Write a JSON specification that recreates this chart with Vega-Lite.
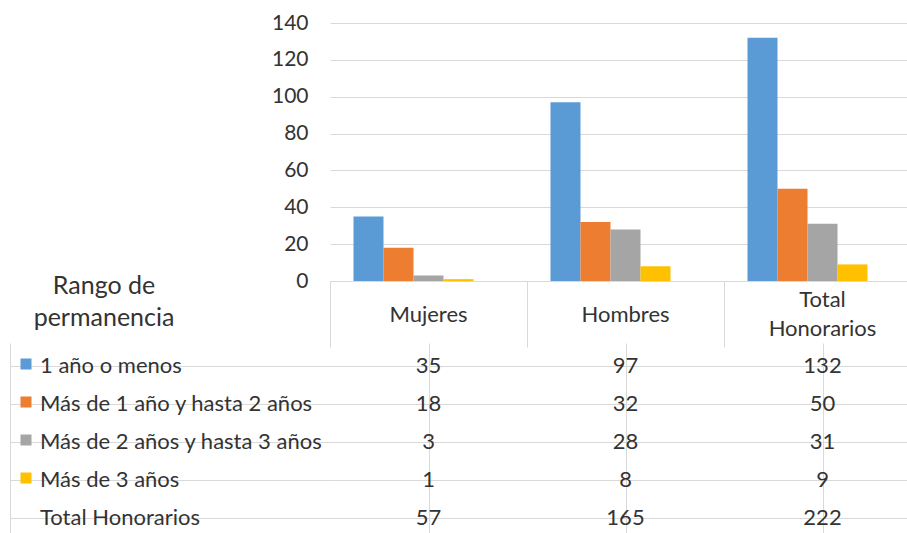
{
  "$schema": "https://vega.github.io/schema/vega-lite/v6.json",
  "padding": {"left": 10, "top": 12, "right": 0, "bottom": 0},
  "background": "white",
  "config": {"view": {"stroke": null}, "font": "Lato", "title": {"font": "Lato"}, "axis": {"labelFont": "Lato"}},
  "datasets": {
    "tabla": [
      {"grupo": "Mujeres", "rango": "1 año o menos", "valor": 35},
      {"grupo": "Mujeres", "rango": "Más de 1 año y hasta 2 años", "valor": 18},
      {"grupo": "Mujeres", "rango": "Más de 2 años y hasta 3 años", "valor": 3},
      {"grupo": "Mujeres", "rango": "Más de 3 años", "valor": 1},
      {"grupo": "Mujeres", "rango": "Total Honorarios", "valor": 57},
      {"grupo": "Hombres", "rango": "1 año o menos", "valor": 97},
      {"grupo": "Hombres", "rango": "Más de 1 año y hasta 2 años", "valor": 32},
      {"grupo": "Hombres", "rango": "Más de 2 años y hasta 3 años", "valor": 28},
      {"grupo": "Hombres", "rango": "Más de 3 años", "valor": 8},
      {"grupo": "Hombres", "rango": "Total Honorarios", "valor": 165},
      {"grupo": "Total Honorarios", "rango": "1 año o menos", "valor": 132},
      {"grupo": "Total Honorarios", "rango": "Más de 1 año y hasta 2 años", "valor": 50},
      {"grupo": "Total Honorarios", "rango": "Más de 2 años y hasta 3 años", "valor": 31},
      {"grupo": "Total Honorarios", "rango": "Más de 3 años", "valor": 9},
      {"grupo": "Total Honorarios", "rango": "Total Honorarios", "valor": 222}
    ],
    "filas": [
      {"rango": "1 año o menos"},
      {"rango": "Más de 1 año y hasta 2 años"},
      {"rango": "Más de 2 años y hasta 3 años"},
      {"rango": "Más de 3 años"},
      {"rango": "Total Honorarios"}
    ]
  },
  "columns": 2,
  "spacing": {"row": 66, "column": 0},
  "bounds": "flush",
  "concat": [
    {
      "width": 320,
      "height": 258,
      "data": {"values": [{}]},
      "mark": {"type": "text", "text": ""},
      "encoding": {}
    },
    {
      "width": 577,
      "height": 258,
      "data": {"name": "tabla"},
      "transform": [{"filter": "datum.rango != 'Total Honorarios'"}],
      "mark": {"type": "bar"},
      "encoding": {
        "x": {
          "field": "grupo", "type": "nominal",
          "sort": ["Mujeres", "Hombres", "Total Honorarios"],
          "scale": {"range": [0, 591], "paddingInner": 0, "paddingOuter": 0},
          "axis": {
            "title": null, "orient": "bottom", "domain": false, "ticks": true,
            "tickSize": 66, "tickColor": "#d9d9d9", "bandPosition": 0,
            "labelPadding": -33,
            "labelBaseline": {"condition": {"test": "datum.value == 'Total Honorarios'", "value": "line-bottom"}, "value": "middle"},
            "labelAngle": 0,
            "labelFontSize": 22, "labelColor": "#333333", "labelLineHeight": 29,
            "labelOverlap": false,
            "labelExpr": "datum.label == 'Total Honorarios' ? ['Total', 'Honorarios'] : datum.label"
          }
        },
        "xOffset": {
          "field": "rango", "type": "nominal",
          "scale": {
            "domain": ["1 año o menos", "Más de 1 año y hasta 2 años", "Más de 2 años y hasta 3 años", "Más de 3 años", " "],
            "paddingInner": 0, "paddingOuter": 0.783
          }
        },
        "y": {
          "field": "valor", "type": "quantitative",
          "scale": {"domain": [0, 140]},
          "axis": {
            "title": null, "values": [0, 20, 40, 60, 80, 100, 120, 140],
            "domain": false, "ticks": false, "labelPadding": 22,
            "labelFontSize": 21, "labelColor": "#333333", "gridColor": "#d9d9d9"
          }
        },
        "color": {
          "field": "rango", "type": "nominal",
          "scale": {
            "domain": ["1 año o menos", "Más de 1 año y hasta 2 años", "Más de 2 años y hasta 3 años", "Más de 3 años"],
            "range": ["#5B9BD5", "#ED7D31", "#A5A5A5", "#FFC000"]
          },
          "legend": null
        }
      }
    },
    {
      "width": 320,
      "height": 186,
      "title": {
        "text": ["Rango de", "permanencia"], "anchor": "start", "align": "center",
        "dx": 94, "baseline": "bottom", "offset": -9, "fontSize": 25,
        "fontWeight": "normal", "color": "#333333", "lineHeight": 32, "frame": "group"
      },
      "data": {"name": "filas"},
      "layer": [
        {
          "mark": {"type": "text", "align": "left", "baseline": "middle", "dx": 30, "fontSize": 22, "color": "#333333"},
          "encoding": {
            "x": {
              "datum": "etiqueta", "type": "nominal", "bandPosition": 0,
              "scale": {"type": "band", "paddingInner": 0, "paddingOuter": 0},
              "axis": {"title": null, "orient": "bottom", "labels": false, "ticks": false, "domain": false, "grid": true, "gridColor": "#d9d9d9", "bandPosition": 0}
            },
            "y": {
              "field": "rango", "type": "nominal",
              "sort": ["1 año o menos", "Más de 1 año y hasta 2 años", "Más de 2 años y hasta 3 años", "Más de 3 años", "Total Honorarios"],
              "scale": {"range": [0, 190], "paddingInner": 0, "paddingOuter": 0},
              "axis": {"title": null, "labels": false, "ticks": false, "domain": false, "grid": true, "gridColor": "#d9d9d9", "bandPosition": 0}
            },
            "text": {"field": "rango"}
          }
        },
        {
          "transform": [{"filter": "datum.rango != 'Total Honorarios'"}],
          "mark": {"type": "point", "shape": "square", "filled": true, "size": 121, "opacity": 1, "xOffset": 16, "yOffset": -2},
          "encoding": {
            "x": {"datum": "etiqueta", "type": "nominal", "bandPosition": 0},
            "y": {
              "field": "rango", "type": "nominal",
              "sort": ["1 año o menos", "Más de 1 año y hasta 2 años", "Más de 2 años y hasta 3 años", "Más de 3 años", "Total Honorarios"]
            },
            "color": {
              "field": "rango", "type": "nominal",
              "scale": {
                "domain": ["1 año o menos", "Más de 1 año y hasta 2 años", "Más de 2 años y hasta 3 años", "Más de 3 años"],
                "range": ["#5B9BD5", "#ED7D31", "#A5A5A5", "#FFC000"]
              },
              "legend": null
            }
          }
        }
      ]
    },
    {
      "width": 577,
      "height": 186,
      "data": {"name": "tabla"},
      "mark": {"type": "text", "fontSize": 22, "color": "#333333", "baseline": "middle"},
      "encoding": {
        "x": {
          "field": "grupo", "type": "nominal",
          "sort": ["Mujeres", "Hombres", "Total Honorarios"],
          "scale": {"range": [0, 591], "paddingInner": 0, "paddingOuter": 0},
          "axis": {"title": null, "orient": "bottom", "labels": false, "ticks": false, "domain": false, "grid": true, "gridColor": "#d9d9d9", "bandPosition": 0}
        },
        "y": {
          "field": "rango", "type": "nominal",
          "sort": ["1 año o menos", "Más de 1 año y hasta 2 años", "Más de 2 años y hasta 3 años", "Más de 3 años", "Total Honorarios"],
          "scale": {"range": [0, 190], "paddingInner": 0, "paddingOuter": 0},
          "axis": {"title": null, "labels": false, "ticks": false, "domain": false, "grid": true, "gridColor": "#d9d9d9", "bandPosition": 0}
        },
        "text": {"field": "valor"}
      }
    }
  ]
}
